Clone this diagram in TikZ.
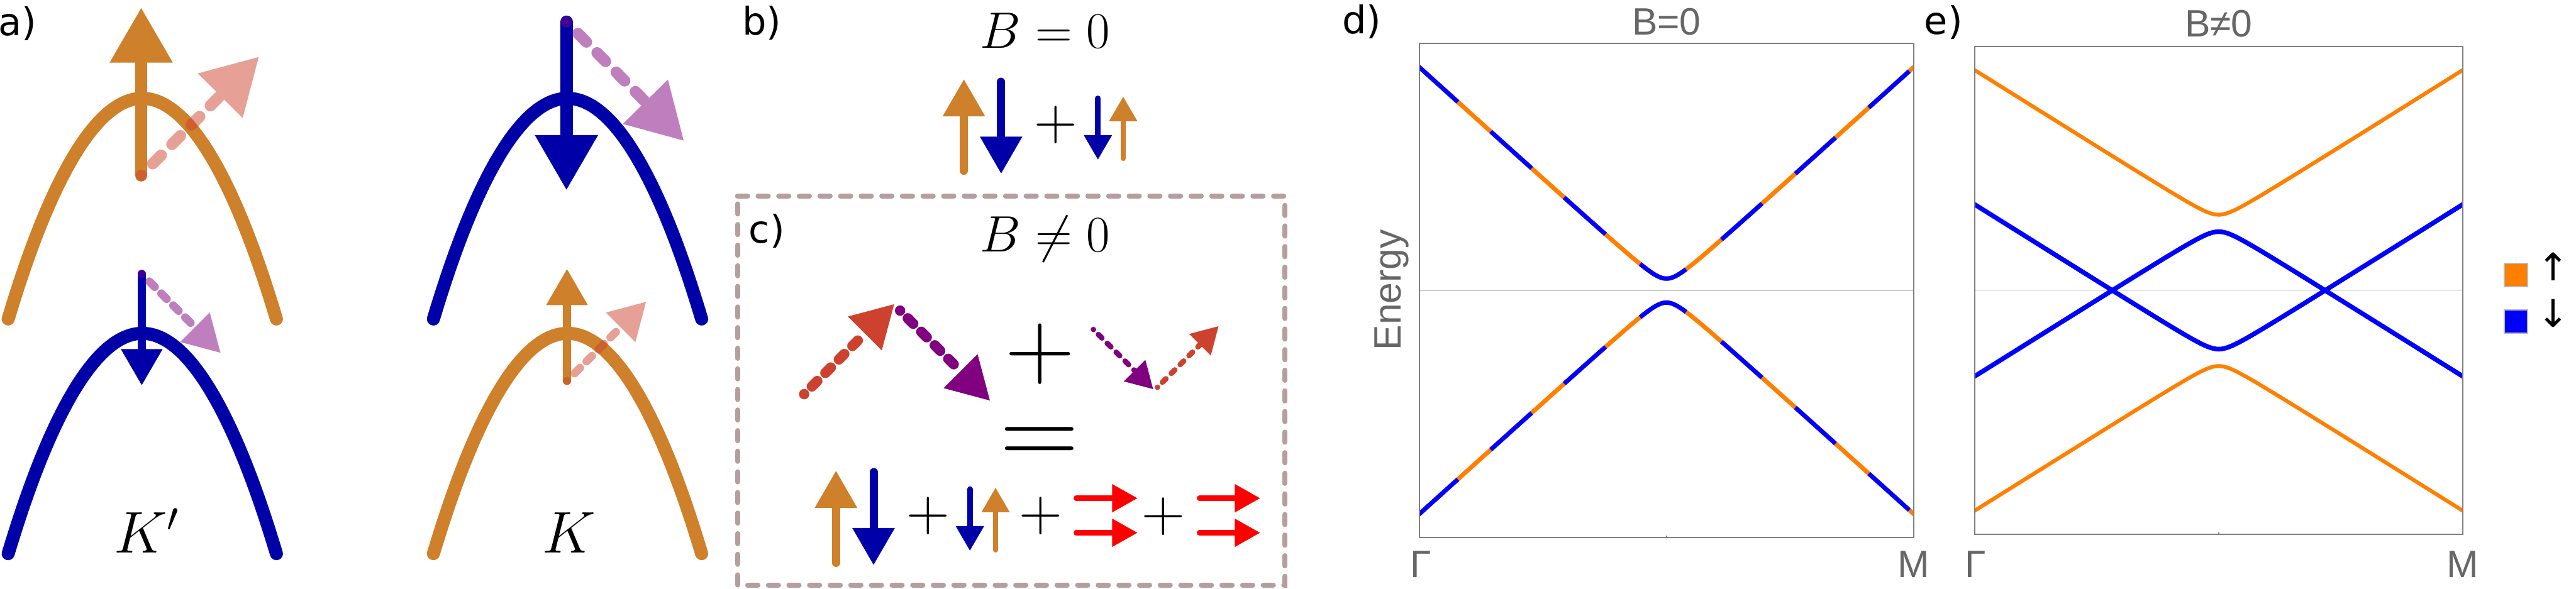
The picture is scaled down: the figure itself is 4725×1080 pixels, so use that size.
\RequirePackage{fix-cm}
\documentclass[tikz,border=0pt]{standalone}
\usepackage{fontspec}
\newfontfamily\dvsans{DejaVu Sans}
\newfontfamily\libsans{Liberation Sans}
\usetikzlibrary{calc}
\definecolor{brz}{RGB}{206,128,42}
\definecolor{dblue}{RGB}{0,0,168}
\definecolor{rorg}{RGB}{205,66,46}
\definecolor{purp}{RGB}{128,0,128}
\definecolor{boxg}{RGB}{180,158,158}
\definecolor{pO}{RGB}{255,128,0}
\definecolor{pB}{RGB}{0,0,255}
\definecolor{frameg}{RGB}{128,128,128}
\definecolor{midg}{RGB}{175,175,175}
\definecolor{txtg}{RGB}{102,102,102}
\tikzset{
  plab/.style={font=\dvsans\fontsize{19.9}{24}\selectfont, anchor=base west, inner sep=0pt},
  gtxt/.style={font=\libsans\fontsize{19.9}{24}\selectfont, text=txtg, inner sep=0pt},
  kl/.style={font=\fontsize{30.7}{36}\selectfont, anchor=base, inner sep=0pt},
  bl/.style={font=\fontsize{26.7}{32}\selectfont, anchor=base, inner sep=0pt},
  pl/.style={font=\fontsize{31.3}{36}\selectfont, inner sep=0pt},
  band/.style={line width=0.24cm, line cap=round},
  frm/.style={draw=frameg, line width=0.02cm},
  midl/.style={draw=midg, line width=0.012cm},
  dashbiga/.style={dash pattern=on 0cm off 0.30cm on 0.22cm off 0.28cm on 0.22cm off 0.28cm on 0.22cm off 0.28cm on 0.22cm off 0.28cm},
  dashsmalla/.style={dash pattern=on 0cm off 0.197cm on 0.14cm off 0.17cm on 0.14cm off 0.17cm on 0.14cm off 0.17cm on 0.14cm off 0.17cm},
  dashbigc/.style={dash pattern=on 0cm off 0.20cm on 0.14cm off 0.21cm on 0.14cm off 0.21cm on 0.14cm off 0.21cm on 0.14cm off 0.21cm on 0.14cm off 0.21cm},
  dashsmallc/.style={dash pattern=on 0cm off 0.13cm on 0.09cm off 0.14cm on 0.09cm off 0.14cm on 0.09cm off 0.14cm on 0.09cm off 0.14cm on 0.09cm off 0.14cm},
}
% solid arrow: color, shaft width, start, tip, head length, head half width
\newcommand{\solidarr}[6]{%
  \coordinate (#4-base) at ($(#4)!#5!(#3)$);
  \draw[draw=#1, line width=#2, line cap=round] (#3) -- (#4-base);
  \fill[#1] (#4) -- ($(#4-base)!#6!90:(#4)$) -- ($(#4-base)!#6!-90:(#4)$) -- cycle;
}
% dashed arrow: color, width, dash style, start, tip, head length, head half width
\newcommand{\dasharr}[7]{%
  \coordinate (#5-base) at ($(#5)!#6!(#4)$);
  \draw[draw=#1, line width=#2, line cap=round, #3] (#4) -- (#5-base);
  \fill[#1] (#5) -- ($(#5-base)!#7!90:(#5)$) -- ($(#5-base)!#7!-90:(#5)$) -- cycle;
}
\begin{document}
\begin{tikzpicture}[x=0.01cm, y=-0.01cm]
\useasboundingbox (0,0) rectangle (4725,1080);

% ---------------- panel a ----------------
\node[plab] (la) at (-4,65.5) {a)};
\coordinate (a1s) at (259,321.7); \coordinate (a1t) at (259,15);
\coordinate (a1d) at (474.5,104.7);
\coordinate (a2s) at (260,502.7); \coordinate (a2t) at (260,706.7);
\coordinate (a2d) at (404.3,647.3);
\coordinate (a3s) at (1039,40); \coordinate (a3t) at (1039,348);
\coordinate (a3d) at (1254,258);
\coordinate (a4s) at (1040,699); \coordinate (a4t) at (1040,494);
\coordinate (a4d) at (1185,554);

\draw[band, brz] (15,585.4) parabola bend (261,180.5) (507,585.4);
\solidarr{brz}{0.23cm}{a1s}{a1t}{1cm}{0.58cm}
\begin{scope}[transparency group, opacity=0.5]
\dasharr{rorg}{0.21cm}{dashbiga}{a1s}{a1d}{1cm}{0.58cm}
\end{scope}

\draw[band, dblue] (15,1016) parabola bend (261,611.7) (507,1016);
\solidarr{dblue}{0.15cm}{a2s}{a2t}{0.66cm}{0.383cm}
\begin{scope}[transparency group, opacity=0.5]
\dasharr{purp}{0.15cm}{dashsmalla}{a2s}{a2d}{0.66cm}{0.383cm}
\end{scope}

\draw[band, dblue] (795,585.4) parabola bend (1041,180.5) (1287,585.4);
\solidarr{dblue}{0.23cm}{a3s}{a3t}{1cm}{0.58cm}
\begin{scope}[transparency group, opacity=0.5]
\dasharr{purp}{0.21cm}{dashbiga}{a3s}{a3d}{1cm}{0.58cm}
\end{scope}

\draw[band, brz] (795,1016) parabola bend (1041,611.7) (1287,1016);
\solidarr{brz}{0.15cm}{a4s}{a4t}{0.66cm}{0.383cm}
\begin{scope}[transparency group, opacity=0.5]
\dasharr{rorg}{0.15cm}{dashsmalla}{a4s}{a4d}{0.66cm}{0.383cm}
\end{scope}

\node[kl] (kp) at (269,1015) {$K'$};
\node[kl] (kk) at (1044,1014) {$K$};

% ---------------- panel b ----------------
\node[plab] (lb) at (1361,64) {b)};
\node[bl] (tb) at (1917,88) {$B = 0$};
\coordinate (b1s) at (1768,313.4); \coordinate (b1t) at (1768,146);
\coordinate (b2s) at (1836.3,150); \coordinate (b2t) at (1836.3,318.2);
\coordinate (b3s) at (2013.8,180.4); \coordinate (b3t) at (2013.8,292.7);
\coordinate (b4s) at (2060.2,290.6); \coordinate (b4t) at (2060.2,177.7);
\solidarr{brz}{0.15cm}{b1s}{b1t}{0.675cm}{0.39cm}
\solidarr{dblue}{0.15cm}{b2s}{b2t}{0.675cm}{0.39cm}
\node[pl] (bp) at (1936.7,229.3) {$+$};
\solidarr{dblue}{0.10cm}{b3s}{b3t}{0.447cm}{0.26cm}
\solidarr{brz}{0.10cm}{b4s}{b4t}{0.447cm}{0.26cm}

% ---------------- panel c ----------------
\draw[boxg, line width=0.093cm, line cap=round, dash pattern=on 0.185cm off 0.193cm]
  (1352.7,360) -- (2357,360) -- (2357,1074) -- (1352.7,1074) -- cycle;
\node[plab] (lc) at (1373,446) {c)};
\node[bl] (tc) at (1917,462) {$B \neq 0$};
\coordinate (c1s) at (1475,723.3); \coordinate (c1t) at (1640,558.3);
\coordinate (c2s) at (1651,570); \coordinate (c2t) at (1815.7,735);
\coordinate (c3s) at (2005.6,604.7); \coordinate (c3t) at (2115,714);
\coordinate (c4s) at (2123,710.7); \coordinate (c4t) at (2235,598.7);
\dasharr{rorg}{0.19cm}{dashbigc}{c1s}{c1t}{0.76cm}{0.44cm}
\dasharr{purp}{0.19cm}{dashbigc}{c2s}{c2t}{0.76cm}{0.44cm}
\node[font=\fontsize{50.4}{56}\selectfont, inner sep=0pt] (cp) at (1907.6,650) {$+$};
\dasharr{purp}{0.10cm}{dashsmallc}{c3s}{c3t}{0.48cm}{0.28cm}
\dasharr{rorg}{0.10cm}{dashsmallc}{c4s}{c4t}{0.48cm}{0.28cm}
\node[font=\fontsize{56.9}{64}\selectfont, inner sep=0pt, anchor=base] (ce) at (1907.3,855.8) {$=$};

\coordinate (d1s) at (1533.4,1033); \coordinate (d1t) at (1533.4,864.3);
\coordinate (d2s) at (1602.3,866.4); \coordinate (d2t) at (1602.3,1036.5);
\coordinate (d3s) at (1779,897.4); \coordinate (d3t) at (1779,1010.3);
\coordinate (d4s) at (1826.1,1009); \coordinate (d4t) at (1826.1,895.3);
\solidarr{brz}{0.15cm}{d1s}{d1t}{0.675cm}{0.39cm}
\solidarr{dblue}{0.15cm}{d2s}{d2t}{0.675cm}{0.39cm}
\node[pl] (cp1) at (1701.9,947) {$+$};
\solidarr{dblue}{0.10cm}{d3s}{d3t}{0.447cm}{0.26cm}
\solidarr{brz}{0.10cm}{d4s}{d4t}{0.447cm}{0.26cm}
\node[pl] (cp2) at (1908.7,947) {$+$};
\coordinate (r1s) at (1974,914.3); \coordinate (r1t) at (2086,914.3);
\coordinate (r2s) at (1974,977.7); \coordinate (r2t) at (2086,977.7);
\coordinate (r3s) at (2200,914.3); \coordinate (r3t) at (2311,914.3);
\coordinate (r4s) at (2200,977.7); \coordinate (r4t) at (2311,977.7);
\solidarr{red}{0.095cm}{r1s}{r1t}{0.46cm}{0.26cm}
\solidarr{red}{0.095cm}{r2s}{r2t}{0.46cm}{0.26cm}
\node[pl] (cp3) at (2134,947.5) {$+$};
\solidarr{red}{0.095cm}{r3s}{r3t}{0.46cm}{0.26cm}
\solidarr{red}{0.095cm}{r4s}{r4t}{0.46cm}{0.26cm}

% ---------------- panel d ----------------
\node[plab] (ld) at (2461,62) {d)};
\node[gtxt, anchor=base] (td) at (3056.7,64) {B=0};
\draw[midl] (2603.3,533.3) -- (3510,533.3);
\begin{scope}
\clip (2603.3,80) rectangle (3510,986.7);
\foreach \s in {-1,1}{
  \draw[pO, line width=0.08cm] plot[domain=-4.6:4.6, samples=185]
    ({3056.7+100*\x},{533.3+(\s)*100*sqrt(0.815409*\x*\x+0.0484)});
  \foreach \a/\b in {-4.6/-3.827, -3.223/-2.473, -1.876/-1.118, -0.483/0.359, 1.009/1.752, 2.364/3.099, 3.711/4.453}{
    \draw[pB, line width=0.08cm] plot[domain=\a:\b, samples=40]
      ({3056.7+100*\x},{533.3+(\s)*100*sqrt(0.815409*\x*\x+0.0484)});
  }
}
\end{scope}
\draw[frm] (2603.3,80) rectangle (3510,986.7);
\draw[frm] (3056.7,986.7) -- (3056.7,982.5);
\node[gtxt, rotate=90] (en) at (2553,532) {Energy};
\node[gtxt, anchor=base] (gd) at (2606,1059) {Γ};
\node[gtxt, anchor=base] (md) at (3510.5,1059) {M};

% ---------------- panel e ----------------
\node[plab] (le) at (3529,63) {e)};
\node[gtxt, anchor=base] (te) at (4069.6,67) {B≠0};
\draw[midl] (3622,532.9) -- (4517.3,532.9);
\begin{scope}
\clip (3622,85) rectangle (4517.3,980.7);
\draw[pO, line width=0.07cm] plot[domain=-4.6:4.6, samples=185]
  ({4069.6+100*\x},{532.9-123.3-100*sqrt(0.39288*\x*\x+0.024025)});
\draw[pO, line width=0.07cm] plot[domain=-4.6:4.6, samples=185]
  ({4069.6+100*\x},{532.9+123.3+100*sqrt(0.39288*\x*\x+0.024025)});
\draw[pB, line width=0.085cm] plot[domain=-4.6:4.6, samples=185]
  ({4069.6+100*\x},{532.9+123.3-100*sqrt(0.39288*\x*\x+0.024025)});
\draw[pB, line width=0.085cm] plot[domain=-4.6:4.6, samples=185]
  ({4069.6+100*\x},{532.9-123.3+100*sqrt(0.39288*\x*\x+0.024025)});
\end{scope}
\draw[frm] (3622,85) rectangle (4517.3,980.7);
\draw[frm] (4069.6,980.7) -- (4069.6,976.5);
\node[gtxt, anchor=base] (ge) at (3624,1059) {Γ};
\node[gtxt, anchor=base] (me) at (4517.3,1059) {M};

% legend
\draw[fill=pO, draw=gray!55, line width=0.025cm] (4593.3,483.3) rectangle (4635.7,525.7);
\draw[fill=pB, draw=gray!55, line width=0.025cm] (4593.3,569) rectangle (4635.7,611.7);
\node[font=\dvsans\fontsize{19.9}{24}\selectfont, inner sep=0pt] (lup) at (4683,489) {↑};
\node[font=\dvsans\fontsize{19.9}{24}\selectfont, inner sep=0pt] (ldn) at (4683,574.5) {↓};
\end{tikzpicture}
\end{document}
